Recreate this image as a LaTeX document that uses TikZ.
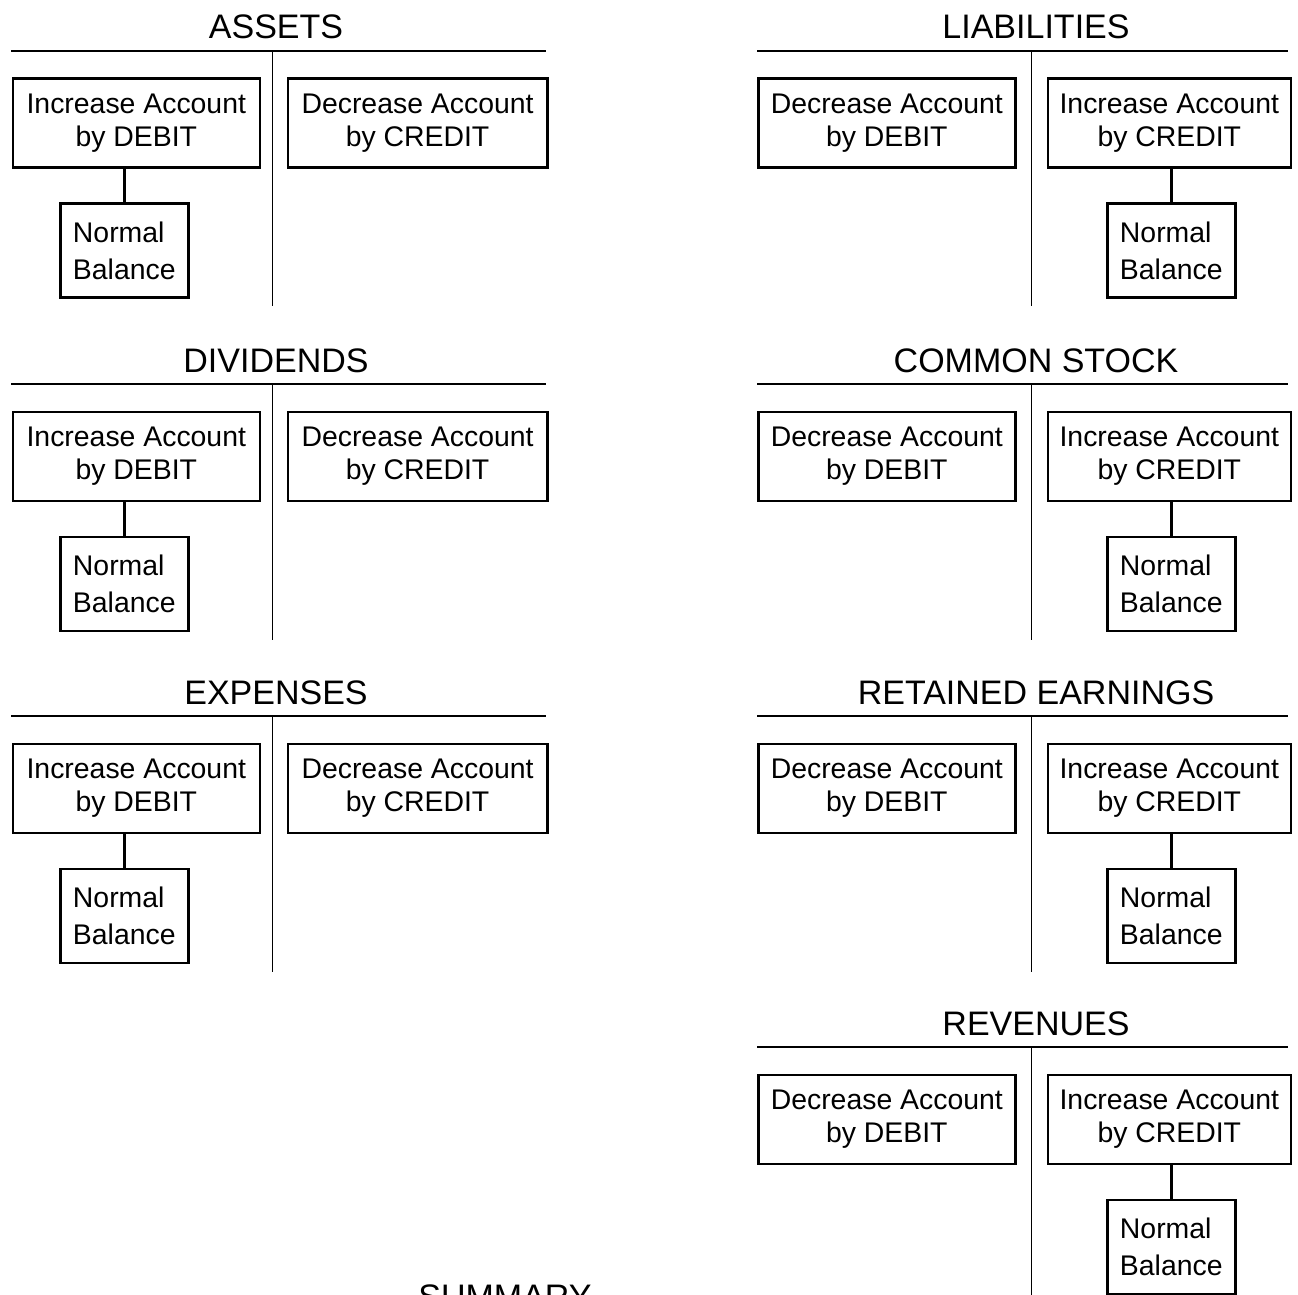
\documentclass[tikz,border=0pt]{standalone}
\usepackage{fontspec}
\setmainfont{Liberation Sans}
\usepackage{tikz}
\usetikzlibrary{positioning,calc}
\tikzset{
  tline/.style={line width=0.7pt},
  ttitle/.style={anchor=base, inner sep=0pt, font=\fontsize{17}{20}\selectfont},
  acctbox/.style={draw, line width=1.3pt, inner sep=0pt, minimum height=44.5pt, align=center, anchor=north west, font=\fontsize{14.2}{16.7}\selectfont},
  nbbox/.style={draw, line width=1.3pt, inner sep=0pt, minimum width=64pt, minimum height=47pt, align=left, anchor=north west, font=\fontsize{14.2}{18.3}\selectfont},
  link/.style={line width=1.2pt},
}

\begin{document}
\begin{tikzpicture}[x=0.5pt, y=-0.5pt]
\useasboundingbox (0,0) rectangle (1298,1295);

% debit side accounts
\foreach \acct/\ttl/\L in {assets/ASSETS/51, dividends/DIVIDENDS/384, expenses/EXPENSES/716}{
  \draw[tline] (11,\L) -- (546,\L);
  \draw[tline] (272.5,\L) -- (272.5,\L+255.5);
  \node[ttitle] (\acct-title) at (276,\L-12) {\ttl};
  \node[acctbox, minimum width=123.5pt] (\acct-inc) at (11.5,\L+26.5) {Increase Account\\by DEBIT};
  \node[acctbox, minimum width=129.75pt] (\acct-dec) at (286.5,\L+26.5) {Decrease Account\\by CREDIT};
  \node[nbbox] (\acct-nb) at (59,\L+151.5) {Normal\\Balance};
  \draw[link] (\acct-inc.south -| \acct-nb.north) -- (\acct-nb.north);
}

% credit side accounts
\foreach \acct/\ttl/\L in {liabilities/LIABILITIES/51, stock/COMMON STOCK/384, retained/RETAINED EARNINGS/716, revenues/REVENUES/1047}{
  \draw[tline] (757,\L) -- (1288,\L);
  \draw[tline] (1031.5,\L) -- (1031.5,\L+255.5);
  \node[ttitle] (\acct-title) at (1036,\L-12) {\ttl};
  \node[acctbox, minimum width=128.5pt] (\acct-dec) at (757,\L+26.5) {Decrease Account\\by DEBIT};
  \node[acctbox, minimum width=121.5pt] (\acct-inc) at (1046.5,\L+26.5) {Increase Account\\by CREDIT};
  \node[nbbox] (\acct-nb) at (1106,\L+151.5) {Normal\\Balance};
  \draw[link] (\acct-inc.south -| \acct-nb.north) -- (\acct-nb.north);
}

\node[ttitle] (summary) at (505,1308.5) {SUMMARY};
\end{tikzpicture}
\end{document}
